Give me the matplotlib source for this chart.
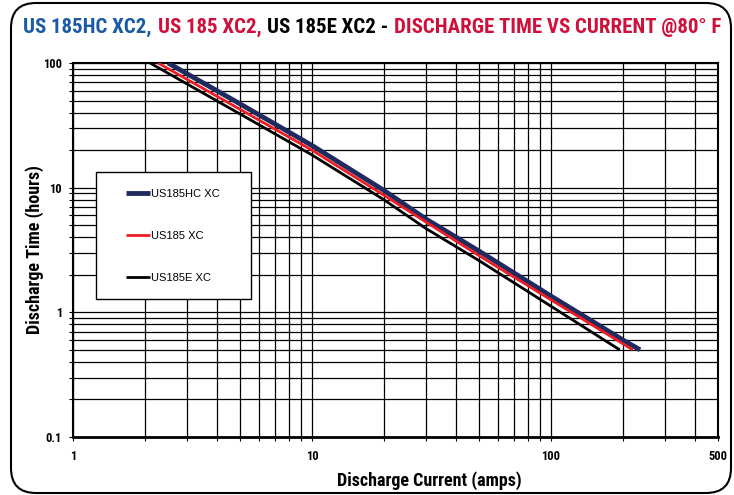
import matplotlib
matplotlib.use('Agg')
import matplotlib.pyplot as plt
from matplotlib import font_manager
from matplotlib.patches import FancyBboxPatch, Rectangle
from matplotlib.ticker import FixedLocator, NullFormatter, FixedFormatter

# pick a narrow face if one is installed
installed = {f.name for f in font_manager.fontManager.ttflist}
narrow = 'Liberation Sans'
for cand in ['Liberation Sans Narrow', 'Roboto Condensed', 'DejaVu Sans Condensed', 'Open Sans Condensed']:
    if cand in installed:
        narrow = cand
        break

plt.rcParams['font.family'] = [narrow, 'DejaVu Sans']

# discharge curves (amps -> hours)
current_hc = [2.5, 5, 10, 20, 30, 50, 100, 200, 236]
time_hc = [100, 47, 21.8, 9.5, 5.6, 3.1, 1.35, 0.6, 0.5]

current_185 = [2.27, 5, 10, 20, 30, 50, 100, 200, 220]
time_185 = [100, 42.5, 20, 8.7, 5.3, 2.85, 1.26, 0.56, 0.5]

current_185e = [2.1, 5, 10, 20, 30, 50, 100, 194]
time_185e = [100, 39, 18.3, 8.0, 4.7, 2.6, 1.12, 0.5]

labels = ['US185HC XC', 'US185 XC', 'US185E XC']
colors = ['#1f2a5e', '#ed1c24', '#000000']

x_ticks = [1, 10, 100, 500]
y_ticks = [0.1, 1, 10, 100]
x_minor = [2, 3, 4, 5, 6, 7, 8, 9, 20, 30, 40, 50, 60, 70, 80, 90, 200, 300, 400]
y_minor = [0.2, 0.3, 0.4, 0.5, 0.6, 0.7, 0.8, 0.9, 2, 3, 4, 5, 6, 7, 8, 9,
           20, 30, 40, 50, 60, 70, 80, 90]

fig = plt.figure(figsize=(7.34, 4.95), dpi=100)
ax = fig.add_axes([73/734, 1-437/495, 645/734, 374/495])

ax.plot(current_hc, time_hc, color=colors[0], lw=3.5, label=labels[0], solid_capstyle='butt', zorder=5)
ax.plot(current_185, time_185, color=colors[1], lw=2.0, label=labels[1], solid_capstyle='butt', zorder=5)
ax.plot(current_185e, time_185e, color=colors[2], lw=2.0, label=labels[2], solid_capstyle='butt', zorder=5)

ax.set_xscale('log')
ax.set_yscale('log')
ax.set_xlim(1, 500)
ax.set_ylim(0.1, 100)

ax.xaxis.set_major_locator(FixedLocator(x_ticks))
ax.xaxis.set_major_formatter(FixedFormatter([str(v) for v in x_ticks]))
ax.xaxis.set_minor_locator(FixedLocator(x_minor))
ax.xaxis.set_minor_formatter(NullFormatter())
ax.yaxis.set_major_locator(FixedLocator(y_ticks))
ax.yaxis.set_major_formatter(FixedFormatter([str(v) for v in y_ticks]))
ax.yaxis.set_minor_locator(FixedLocator(y_minor))
ax.yaxis.set_minor_formatter(NullFormatter())

ax.grid(True, which='both', color='black', lw=0.9)
ax.tick_params(which='both', direction='out', length=3, width=0.8)
ax.tick_params(axis='x', pad=6)
ax.tick_params(axis='y', pad=5)
for lab in ax.get_xticklabels() + ax.get_yticklabels():
    lab.set_fontweight('bold')
    lab.set_fontsize(9)
for sp in ax.spines.values():
    sp.set_linewidth(1.5)
ax.spines['bottom'].set_linewidth(2)

ax.set_xlabel('Discharge Current (amps)', fontsize=13, fontweight='bold')
ax.set_ylabel('Discharge Time (hours)', fontsize=13, fontweight='bold')
ax.xaxis.set_label_coords(0.553, -0.092)
ax.yaxis.set_label_coords(-0.045, 0.5)

# legend box
ax.add_patch(Rectangle((0.0357, 0.369), 0.240, 0.3396, transform=ax.transAxes,
                       fc='white', ec='black', lw=1, zorder=6))
leg = ax.legend(loc='upper left', bbox_to_anchor=(0.082, 0.664), frameon=False,
                borderpad=0, borderaxespad=0, handlelength=2.2, handletextpad=0.1,
                labelspacing=2.9, prop={'family': ['Liberation Sans', 'DejaVu Sans'], 'size': 8})
leg.set_zorder(7)

# rounded outer border
fig.patches.append(FancyBboxPatch((0.11, 0.02), 7.2, 4.9,
                                  boxstyle='round,pad=0,rounding_size=0.25',
                                  transform=fig.dpi_scale_trans, fc='none',
                                  ec='black', lw=1.5))

# multi-coloured title
title_parts = ['US 185HC XC2,', 'US 185 XC2,', 'US 185E XC2 -', 'DISCHARGE TIME VS CURRENT @80\u00b0 F']
title_colors = ['#1b5aa5', '#d0103a', '#000000', '#d0103a']
gap = 6
parts = []
for txt, col in zip(title_parts, title_colors):
    parts.append(fig.text(0, 0, txt, color=col, fontsize=20, fontweight='bold',
                          va='bottom', ha='left'))

def layout_title(size):
    r = fig.canvas.get_renderer()
    x = 23
    for t in parts:
        t.set_fontsize(size)
        t.set_position((x/734, 1-37/495))
        bb = t.get_window_extent(renderer=r)
        x = x + bb.width + gap
    return x - gap

fig.canvas.draw()
end = layout_title(20)
size = 20 * (725 - 23) / (end - 23)
end = layout_title(size)
size = size * (725 - 23) / (end - 23)
layout_title(size)

fig.savefig('out.png', dpi=100)
